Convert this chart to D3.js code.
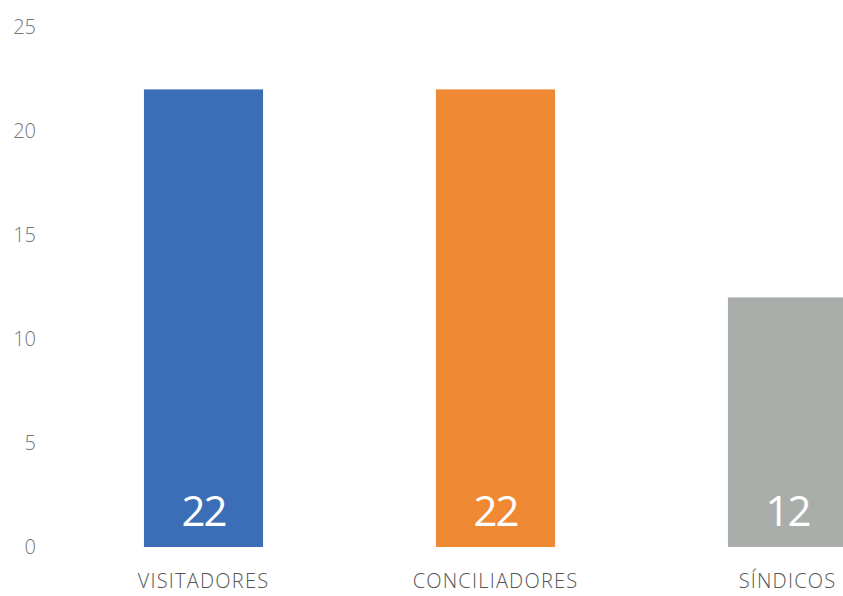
<!DOCTYPE html>
<html><head><meta charset="utf-8">
<script src="https://cdn.jsdelivr.net/npm/d3@7"></script>
<style>body{margin:0;background:#fff}</style>
</head><body>
<svg id="c" width="843" height="596"></svg>
<script>
const categories = ["VISITADORES", "CONCILIADORES", "SÍNDICOS"];
const values = [22, 22, 12];
const colors = ["#3b6eb7", "#ef8934", "#a9aeaa"];
const yTicks = [0, 5, 10, 15, 20, 25];

const svg = d3.select("#c");
const x = d3.scaleBand().domain(categories).range([57.5, 933.5]).paddingInner(0.592).paddingOuter(0.296);
const y = d3.scaleLinear().domain([0, 25]).range([547, 27]);

const yAxis = svg.append("g").attr("transform", "translate(36,0)")
  .call(d3.axisLeft(y).tickValues(yTicks).tickSize(0).tickPadding(0));
yAxis.select(".domain").remove();
yAxis.selectAll("text").attr("font-family", "'Open Sans', sans-serif").attr("font-weight", 300)
  .attr("font-size", 20).attr("fill", "#777");

svg.selectAll("rect.bar").data(values).join("rect").attr("class", "bar")
  .attr("x", (d, i) => x(categories[i])).attr("width", x.bandwidth())
  .attr("y", d => y(d)).attr("height", d => y(0) - y(d))
  .attr("fill", (d, i) => colors[i]);

svg.selectAll("text.val").data(values).join("text").attr("class", "val")
  .attr("x", (d, i) => x(categories[i]) + x.bandwidth() / 2).attr("y", y(0) - 21)
  .attr("text-anchor", "middle").attr("font-family", "'Open Sans', sans-serif")
  .attr("font-size", 42).attr("letter-spacing", -2).attr("fill", "#fff").text(d => d);

const xAxis = svg.append("g").attr("transform", `translate(0,${y(0)})`)
  .call(d3.axisBottom(x).tickSize(0).tickPadding(27));
xAxis.select(".domain").remove();
xAxis.selectAll("text").attr("font-family", "'Open Sans', sans-serif").attr("font-weight", 300)
  .attr("font-size", 20).attr("letter-spacing", 1.2).attr("fill", "#555");
</script>
</body></html>
